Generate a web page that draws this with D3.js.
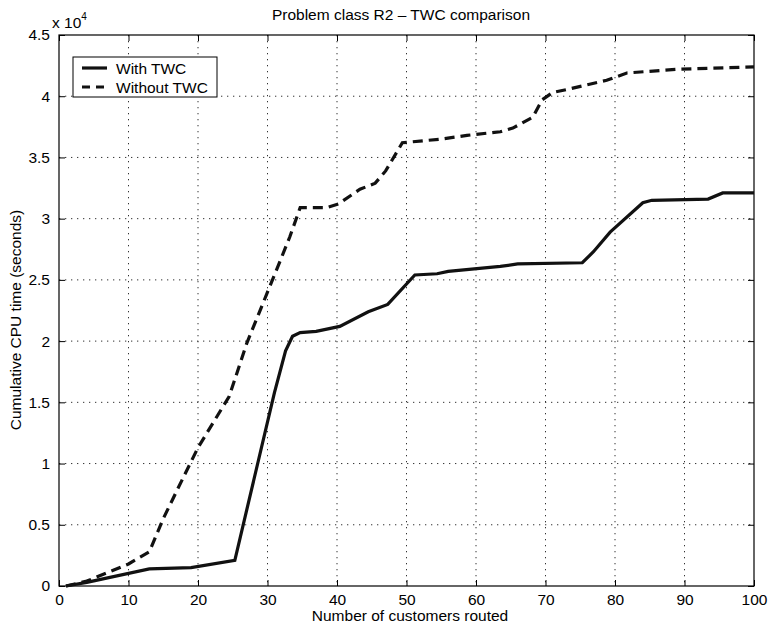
<!DOCTYPE html>
<html>
<head>
<meta charset="utf-8">
<script src="https://cdn.jsdelivr.net/npm/d3@7"></script>
<style>
  body { margin: 0; background: #fff; }
  svg { font-family: "Liberation Sans", Arial, sans-serif; }
</style>
</head>
<body>
<div id="chart"></div>
<script>
// Chart data (cumulative CPU time, in units of 10^4 seconds)
var withX = [1, 4, 13, 19, 25.3, 31, 32.6, 33.6, 34.7, 37, 40.4, 44.5, 47.3, 51.2, 54.4, 56, 63.5, 66, 75.3, 76.9, 79.3, 84, 85.3, 93.4, 95.5, 100];
var withY = [0, 0.03, 0.14, 0.15, 0.21, 1.58, 1.92, 2.04, 2.07, 2.08, 2.12, 2.24, 2.3, 2.54, 2.55, 2.57, 2.61, 2.63, 2.64, 2.73, 2.89, 3.13, 3.15, 3.16, 3.21, 3.21];
var withoutX = [1, 4, 10, 13, 15, 18, 20, 24.5, 27, 31, 33.2, 34.7, 38.5, 40.2, 43.3, 45.5, 47, 49.4, 55, 58.7, 63.5, 65.3, 68.2, 69.5, 71, 73.5, 78.8, 81.7, 89, 100];
var withoutY = [0, 0.04, 0.18, 0.28, 0.55, 0.9, 1.13, 1.55, 1.98, 2.54, 2.85, 3.09, 3.09, 3.12, 3.24, 3.29, 3.39, 3.62, 3.65, 3.68, 3.71, 3.74, 3.83, 3.97, 4.03, 4.06, 4.13, 4.19, 4.22, 4.24];
var xTicks = [0, 10, 20, 30, 40, 50, 60, 70, 80, 90, 100];
var yTicks = [0, 0.5, 1, 1.5, 2, 2.5, 3, 3.5, 4, 4.5];
var seriesNames = ["With TWC", "Without TWC"];

var fontSize = "15.5px";
var margin = { top: 35, right: 15, bottom: 41, left: 59 };
var width = 769 - margin.left - margin.right;
var height = 627 - margin.top - margin.bottom;

var svg = d3
  .select("#chart")
  .append("svg")
  .attr("width", 769)
  .attr("height", 627);

var g = svg
  .append("g")
  .attr("transform", "translate(" + margin.left + "," + margin.top + ")");

var x = d3.scaleLinear().domain([0, 100]).range([0, width]);
var y = d3.scaleLinear().domain([0, 4.5]).range([height, 0]);

// Dotted grid
g.append("g")
  .selectAll("line")
  .data(xTicks.slice(1, -1))
  .enter()
  .append("line")
  .attr("x1", function (d) { return x(d); })
  .attr("x2", function (d) { return x(d); })
  .attr("y1", 0)
  .attr("y2", height)
  .attr("stroke", "#333")
  .attr("stroke-dasharray", "1.3,4.7");

g.append("g")
  .selectAll("line")
  .data(yTicks.slice(1, -1))
  .enter()
  .append("line")
  .attr("x1", 0)
  .attr("x2", width)
  .attr("y1", function (d) { return y(d); })
  .attr("y2", function (d) { return y(d); })
  .attr("stroke", "#333")
  .attr("stroke-dasharray", "1.3,4.7");

// Axes with inward ticks on all four sides
function styleAxis(sel) {
  sel.select(".domain").remove();
  sel.selectAll(".tick line").attr("stroke", "#000");
  sel.selectAll(".tick text").attr("fill", "#000").style("font-size", fontSize);
}

g.append("g")
  .attr("transform", "translate(0," + height + ")")
  .call(d3.axisBottom(x).tickValues(xTicks).tickSizeInner(-6).tickSizeOuter(0).tickPadding(8))
  .call(styleAxis);

g.append("g")
  .call(d3.axisLeft(y).tickValues(yTicks).tickFormat(d3.format("")).tickSizeInner(-6).tickSizeOuter(0).tickPadding(9))
  .call(styleAxis);

g.append("g")
  .call(d3.axisTop(x).tickValues(xTicks).tickFormat("").tickSizeInner(-6).tickSizeOuter(0))
  .call(styleAxis);

g.append("g")
  .attr("transform", "translate(" + width + ",0)")
  .call(d3.axisRight(y).tickValues(yTicks).tickFormat("").tickSizeInner(-6).tickSizeOuter(0))
  .call(styleAxis);

// Plot box
g.append("rect")
  .attr("width", width)
  .attr("height", height)
  .attr("fill", "none")
  .attr("stroke", "#000")
  .attr("stroke-width", 1.2);

// Lines
var line = d3
  .line()
  .x(function (d) { return x(d[0]); })
  .y(function (d) { return y(d[1]); });

var withData = withX.map(function (d, i) { return [d, withY[i]]; });
var withoutData = withoutX.map(function (d, i) { return [d, withoutY[i]]; });

g.append("path")
  .datum(withoutData)
  .attr("fill", "none")
  .attr("stroke", "#111")
  .attr("stroke-width", 3.2)
  .attr("stroke-dasharray", "10,6")
  .attr("d", line);

g.append("path")
  .datum(withData)
  .attr("fill", "none")
  .attr("stroke", "#111")
  .attr("stroke-width", 3.2)
  .attr("d", line);

// Legend
var legend = svg.append("g").attr("transform", "translate(73,57)");
legend
  .append("rect")
  .attr("width", 144)
  .attr("height", 40)
  .attr("fill", "#fff")
  .attr("stroke", "#000");

seriesNames.forEach(function (name, i) {
  legend
    .append("line")
    .attr("x1", 9)
    .attr("x2", 34)
    .attr("y1", 11 + i * 19)
    .attr("y2", 11 + i * 19)
    .attr("stroke", "#111")
    .attr("stroke-width", 3.2)
    .attr("stroke-dasharray", i === 0 ? null : "8,6");
  legend
    .append("text")
    .attr("x", 43)
    .attr("y", 17 + i * 19)
    .style("font-size", fontSize)
    .text(name);
});

// Titles
svg.append("text")
  .attr("x", 401)
  .attr("y", 20)
  .attr("text-anchor", "middle")
  .style("font-size", fontSize)
  .text("Problem class R2 \u2013 TWC comparison");

svg.append("text")
  .attr("x", 410)
  .attr("y", 621)
  .attr("text-anchor", "middle")
  .style("font-size", fontSize)
  .text("Number of customers routed");

svg.append("text")
  .attr("transform", "translate(21,320) rotate(-90)")
  .attr("text-anchor", "middle")
  .style("font-size", fontSize)
  .text("Cumulative CPU time (seconds)");

// Exponent label
var expo = svg.append("text").attr("x", 52).attr("y", 28).style("font-size", fontSize);
expo.append("tspan").text("x 10");
expo.append("tspan").attr("dy", -8).style("font-size", "10px").text("4");
</script>
</body>
</html>
